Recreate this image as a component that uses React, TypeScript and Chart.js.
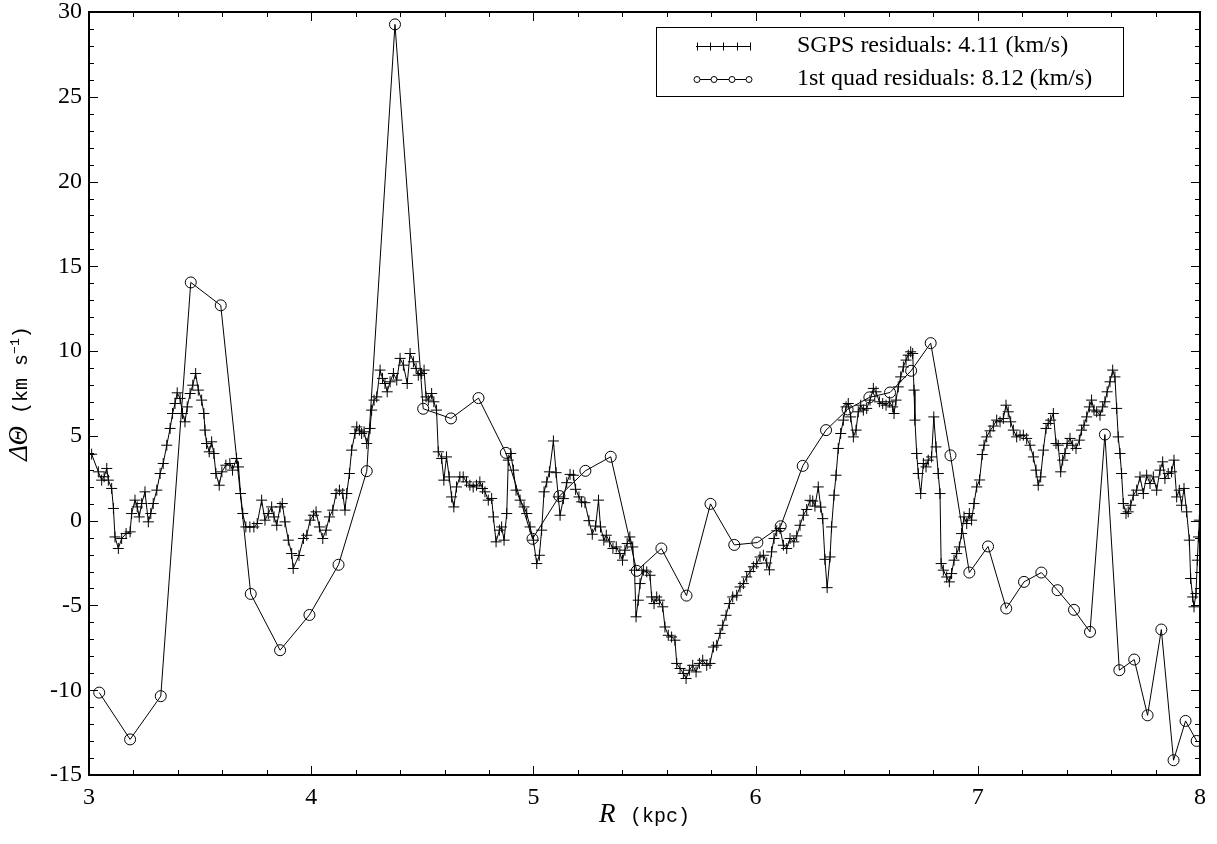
import React, { useEffect, useRef } from "react";
import { Chart, registerables } from "chart.js";

Chart.register(...registerables);

// ---------- data ----------
const sgpsLabel = "SGPS residuals: 4.11 (km/s)";
const quadLabel = "1st quad residuals: 8.12 (km/s)";

const sgpsR: number[] = [
  3.000, 3.012, 3.042, 3.057, 3.068, 3.080, 3.087, 3.102, 3.110, 3.117, 3.132, 3.147, 3.167, 3.185, 3.192, 3.207, 3.217, 3.226, 3.237, 3.252,
  3.267, 3.278, 3.289, 3.305, 3.320, 3.334, 3.350, 3.365, 3.376, 3.387, 3.397, 3.410, 3.421, 3.432, 3.442, 3.455, 3.467, 3.480, 3.492, 3.507,
  3.517, 3.522, 3.529, 3.541, 3.552, 3.562, 3.571, 3.586, 3.598, 3.616, 3.634, 3.646, 3.664, 3.673, 3.682, 3.692, 3.706, 3.724, 3.742, 3.757,
  3.777, 3.792, 3.807, 3.822, 3.833, 3.845, 3.860, 3.870, 3.882, 3.897, 3.912, 3.919, 3.945, 3.965, 3.980, 3.995, 4.010, 4.022, 4.037, 4.052,
  4.067, 4.082, 4.097, 4.112, 4.127, 4.142, 4.152, 4.160, 4.172, 4.182, 4.197, 4.205, 4.217, 4.227, 4.238, 4.250, 4.265, 4.272, 4.283, 4.295,
  4.310, 4.321, 4.332, 4.342, 4.355, 4.370, 4.385, 4.400, 4.415, 4.432, 4.445, 4.460, 4.472, 4.482, 4.497, 4.508, 4.517, 4.527, 4.542, 4.552,
  4.564, 4.572, 4.587, 4.597, 4.609, 4.621, 4.632, 4.642, 4.654, 4.669, 4.684, 4.699, 4.714, 4.729, 4.744, 4.759, 4.771, 4.782, 4.797, 4.812,
  4.820, 4.832, 4.847, 4.857, 4.868, 4.880, 4.887, 4.898, 4.910, 4.922, 4.940, 4.958, 4.970, 4.985, 5.000, 5.015, 5.027, 5.037, 5.048, 5.060,
  5.072, 5.090, 5.102, 5.112, 5.120, 5.135, 5.150, 5.165, 5.180, 5.190, 5.205, 5.217, 5.232, 5.250, 5.265, 5.280, 5.293, 5.302, 5.317, 5.328,
  5.343, 5.358, 5.373, 5.389, 5.401, 5.412, 5.422, 5.434, 5.447, 5.455, 5.462, 5.472, 5.480, 5.495, 5.510, 5.525, 5.532, 5.543, 5.555, 5.567,
  5.582, 5.592, 5.607, 5.622, 5.637, 5.645, 5.660, 5.675, 5.687, 5.702, 5.717, 5.732, 5.747, 5.762, 5.780, 5.795, 5.810, 5.825, 5.840, 5.852,
  5.867, 5.882, 5.897, 5.915, 5.930, 5.945, 5.960, 5.975, 5.990, 6.005, 6.020, 6.035, 6.050, 6.062, 6.072, 6.083, 6.095, 6.110, 6.125, 6.140,
  6.155, 6.172, 6.185, 6.200, 6.215, 6.230, 6.245, 6.257, 6.267, 6.282, 6.293, 6.302, 6.312, 6.322, 6.335, 6.342, 6.353, 6.362, 6.372, 6.383,
  6.395, 6.407, 6.417, 6.428, 6.440, 6.452, 6.462, 6.473, 6.485, 6.500, 6.515, 6.530, 6.542, 6.557, 6.572, 6.587, 6.602, 6.617, 6.623, 6.632,
  6.642, 6.653, 6.665, 6.677, 6.687, 6.698, 6.707, 6.713, 6.717, 6.725, 6.732, 6.743, 6.755, 6.767, 6.777, 6.792, 6.802, 6.812, 6.822, 6.830,
  6.835, 6.845, 6.860, 6.872, 6.882, 6.893, 6.905, 6.917, 6.927, 6.938, 6.950, 6.962, 6.972, 6.983, 6.995, 7.008, 7.020, 7.028, 7.040, 7.055,
  7.070, 7.085, 7.100, 7.115, 7.127, 7.137, 7.148, 7.160, 7.175, 7.190, 7.205, 7.220, 7.235, 7.250, 7.262, 7.272, 7.283, 7.295, 7.307, 7.317,
  7.328, 7.340, 7.352, 7.362, 7.373, 7.382, 7.392, 7.402, 7.415, 7.427, 7.442, 7.457, 7.467, 7.478, 7.490, 7.502, 7.512, 7.523, 7.535, 7.550,
  7.562, 7.572, 7.582, 7.595, 7.607, 7.617, 7.625, 7.632, 7.640, 7.647, 7.655, 7.667, 7.677, 7.688, 7.700, 7.715, 7.730, 7.745, 7.760, 7.775,
  7.790, 7.805, 7.820, 7.832, 7.842, 7.857, 7.872, 7.883, 7.895, 7.907, 7.917, 7.928, 7.940, 7.952, 7.958, 7.967, 7.973, 7.982, 7.988, 7.993,
  7.997,
];

const sgpsResid: number[] = [
  3.90, 3.92, 2.88, 2.39, 2.59, 3.08, 2.39, 1.90, 0.72, -0.96, -1.64, -1.05, -0.76, -0.66, 0.42, 1.21, 0.81, 0.22, 1.01, 1.70,
  -0.07, 0.42, 1.01, 1.80, 2.78, 3.37, 4.45, 5.44, 6.32, 6.91, 7.54, 7.21, 6.32, 5.83, 6.71, 7.50, 7.99, 8.68, 7.70, 7.11,
  6.32, 5.34, 4.55, 4.06, 4.65, 3.96, 2.78, 2.09, 2.88, 3.27, 3.37, 2.98, 3.67, 3.17, 1.60, 0.42, -0.37, -0.37, -0.37, -0.17,
  1.21, 0.03, 0.42, 0.81, 0.22, -0.27, 0.81, 1.01, -0.07, -1.15, -1.94, -2.82, -2.05, -1.05, -0.86, 0.03, 0.32, 0.52, -0.37, -1.05,
  -0.56, 0.22, 0.62, 1.60, 1.80, 1.60, 0.62, 1.60, 2.78, 4.16, 5.14, 5.53, 5.34, 5.14, 5.24, 4.55, 5.44, 6.52, 7.11, 7.30,
  8.88, 8.39, 8.09, 7.60, 8.19, 8.68, 8.29, 9.57, 9.17, 8.09, 9.86, 9.37, 8.98, 8.58, 8.68, 8.88, 7.30, 7.11, 7.50, 7.01,
  6.52, 4.06, 3.67, 2.39, 3.76, 2.58, 1.40, 0.81, 1.99, 2.58, 2.58, 2.29, 2.09, 1.99, 2.09, 2.29, 1.90, 1.70, 1.21, 1.31,
  0.22, -1.25, -0.56, -0.37, -1.15, 0.42, 3.57, 3.96, 2.98, 1.80, 1.21, 0.81, 0.42, -0.37, -1.15, -2.53, -2.04, -0.56, 1.70, 2.28,
  2.88, 4.70, 2.83, 1.40, 0.32, 1.30, 2.24, 2.73, 2.68, 1.85, 1.40, 1.11, 1.06, 0.00, -0.80, -0.32, 1.21, -0.37, -1.15, -0.86,
  -1.25, -1.64, -1.55, -1.94, -2.33, -1.74, -1.35, -0.96, -1.55, -2.92, -5.67, -4.69, -3.71, -2.92, -3.02, -3.22, -4.50, -4.89, -4.50, -4.69,
  -5.08, -6.27, -6.76, -6.86, -7.05, -8.42, -8.72, -9.01, -9.31, -8.82, -8.53, -8.92, -8.42, -8.23, -8.53, -8.42, -7.45, -7.35, -6.65, -6.17,
  -5.58, -4.89, -4.50, -4.40, -3.91, -3.71, -3.32, -3.00, -2.72, -2.53, -2.14, -2.04, -2.50, -2.90, -1.84, -1.05, -0.60, -0.46, -1.45, -1.64,
  -1.05, -1.25, -0.90, -0.27, 0.32, 0.66, 1.20, 1.16, 0.86, 1.99, 0.80, 0.12, -2.28, -3.95, -2.14, -0.37, 1.50, 2.68, 4.26, 5.14,
  5.93, 6.71, 6.91, 6.12, 4.94, 5.34, 6.42, 6.81, 6.52, 6.62, 7.11, 7.80, 7.60, 7.01, 6.91, 6.81, 7.01, 6.71, 6.32, 7.11,
  7.89, 8.48, 9.07, 9.47, 9.76, 9.96, 9.86, 7.70, 5.93, 3.96, 2.78, 1.60, 3.37, 3.17, 3.57, 3.76, 6.12, 4.35, 2.78, 1.60,
  -2.53, -2.92, -3.32, -3.61, -3.12, -2.33, -1.94, -1.55, -0.76, 0.22, -0.17, 0.42, 0.03, 1.01, 1.99, 2.40, 3.90, 4.45, 4.94, 5.30,
  5.58, 5.93, 5.83, 6.03, 6.81, 6.42, 5.83, 5.34, 4.94, 5.04, 5.04, 4.85, 4.45, 3.76, 2.98, 2.09, 2.58, 4.16, 5.44, 5.73,
  5.93, 6.32, 4.55, 4.45, 2.88, 3.57, 3.96, 4.55, 4.85, 4.45, 4.26, 4.75, 5.34, 5.63, 6.12, 6.71, 7.11, 6.52, 6.42, 6.22,
  6.71, 7.01, 7.60, 8.19, 8.88, 8.48, 6.62, 4.94, 3.96, 2.78, 1.01, 0.42, 0.52, 0.91, 1.50, 1.80, 2.58, 1.60, 2.68, 2.19,
  2.58, 1.80, 2.98, 3.47, 2.49, 2.78, 2.88, 3.57, 1.40, 1.80, 0.91, 1.90, 0.52, -1.15, -3.41, -4.50, -5.08, -4.30, -2.33, -0.96,
  0.03,
];

const quadR: number[] = [
  3.046, 3.185, 3.323, 3.458, 3.593, 3.728, 3.860, 3.992, 4.123, 4.250,
  4.377, 4.504, 4.629, 4.753, 4.876, 4.996, 5.117, 5.234, 5.348, 5.465,
  5.576, 5.689, 5.797, 5.904, 6.008, 6.113, 6.212, 6.317, 6.414, 6.512,
  6.605, 6.700, 6.788, 6.877, 6.962, 7.046, 7.128, 7.208, 7.286, 7.359,
  7.433, 7.505, 7.572, 7.637, 7.704, 7.764, 7.826, 7.881, 7.935, 7.985,
];

const quadResid: number[] = [
  -10.14, -12.90, -10.35, 14.05, 12.70, -4.32, -7.64, -5.56, -2.60, 2.92,
  29.27, 6.60, 6.03, 7.23, 4.00, -1.07, 1.45, 2.94, 3.77, -2.96,
  -1.64, -4.42, 0.99, -1.43, -1.29, -0.33, 3.23, 5.34, 6.56, 7.27,
  7.56, 8.84, 10.47, 3.85, -3.06, -1.52, -5.18, -3.61, -3.06, -4.10,
  -5.26, -6.56, 5.08, -8.82, -8.19, -11.48, -6.42, -14.13, -11.81, -12.99,
];

const xTickValues: number[] = [3, 4, 5, 6, 7, 8];
const yTickValues: number[] = [-15, -10, -5, 0, 5, 10, 15, 20, 25, 30];
const xMinorStep = 0.2;
const yMinorStep = 1;

// ---------- styling ----------
const SERIF = "'Liberation Serif', 'Times New Roman', serif";
const MONO = "'Liberation Mono', 'DejaVu Sans Mono', monospace";

const frameTicksPlugin = {
  id: "frameTicks",
  afterDraw(chart: any) {
    const ctx = chart.ctx;
    const { left, right, top, bottom } = chart.chartArea;
    const xs = chart.scales.x;
    const ys = chart.scales.y;
    ctx.save();
    ctx.strokeStyle = "#000";
    ctx.lineWidth = 1;
    const line = (x1: number, y1: number, x2: number, y2: number) => {
      ctx.beginPath();
      ctx.moveTo(x1, y1);
      ctx.lineTo(x2, y2);
      ctx.stroke();
    };
    const xMin = xTickValues[0];
    const xMax = xTickValues[xTickValues.length - 1];
    const nx = Math.round((xMax - xMin) / xMinorStep);
    for (let i = 0; i <= nx; i++) {
      const v = xMin + i * xMinorStep;
      const px = Math.round(xs.getPixelForValue(v)) + 0.5;
      const major = i % 5 === 0;
      const len = major ? 9 : 5;
      line(px, bottom, px, bottom - len);
      line(px, top, px, top + len);
    }
    const yMin = yTickValues[0];
    const yMax = yTickValues[yTickValues.length - 1];
    const ny = Math.round((yMax - yMin) / yMinorStep);
    for (let i = 0; i <= ny; i++) {
      const v = yMin + i * yMinorStep;
      const py = Math.round(ys.getPixelForValue(v)) + 0.5;
      const major = i % 5 === 0;
      const len = major ? 9 : 5;
      line(left, py, left + len, py);
      line(right, py, right - len, py);
    }
    ctx.lineWidth = 2;
    ctx.strokeRect(left, top, right - left, bottom - top);
    ctx.restore();
  },
};

const titlesPlugin = {
  id: "axisTitles",
  afterDraw(chart: any) {
    const ctx = chart.ctx;
    const { left, right, top, bottom } = chart.chartArea;
    ctx.save();
    ctx.fillStyle = "#000";
    ctx.textBaseline = "alphabetic";
    ctx.textAlign = "left";

    // x title: R (kpc)
    const segX = [
      { t: "R", f: `italic 27px ${SERIF}`, dy: 0 },
      { t: "  ", f: `12px ${MONO}`, dy: 0 },
      { t: "(kpc)", f: `20px ${MONO}`, dy: 0 },
    ];
    let w = 0;
    for (const s of segX) { ctx.font = s.f; w += ctx.measureText(s.t).width; }
    let x = (left + right) / 2 - w / 2;
    const yBase = bottom + 47;
    for (const s of segX) { ctx.font = s.f; ctx.fillText(s.t, x, yBase + s.dy); x += ctx.measureText(s.t).width; }

    // y title: ΔΘ (km s^-1)
    const segY = [
      { t: "ΔΘ", f: `italic 27px ${SERIF}`, dy: 0 },
      { t: " (km s", f: `20px ${MONO}`, dy: 0 },
      { t: "−1", f: `13px ${MONO}`, dy: -8 },
      { t: ")", f: `20px ${MONO}`, dy: 0 },
    ];
    w = 0;
    for (const s of segY) { ctx.font = s.f; w += ctx.measureText(s.t).width; }
    ctx.translate(left - 62, (top + bottom) / 2);
    ctx.rotate(-Math.PI / 2);
    x = -w / 2;
    for (const s of segY) { ctx.font = s.f; ctx.fillText(s.t, x, s.dy); x += ctx.measureText(s.t).width; }
    ctx.restore();
  },
};

const legendPlugin = {
  id: "boxLegend",
  afterDraw(chart: any) {
    const ctx = chart.ctx;
    ctx.save();
    ctx.strokeStyle = "#000";
    ctx.fillStyle = "#000";
    ctx.lineWidth = 1;
    ctx.strokeRect(656.5, 27.5, 467, 69);
    const rows = [
      { label: chart.data.datasets[0].label, y: 46, marker: "cross", xs: [697, 710, 723, 737, 750] },
      { label: chart.data.datasets[1].label, y: 79, marker: "circle", xs: [697, 714, 732, 749] },
    ];
    for (const r of rows) {
      ctx.beginPath();
      ctx.moveTo(696, r.y + 0.5);
      ctx.lineTo(751, r.y + 0.5);
      ctx.stroke();
      for (const mx of r.xs) {
        ctx.beginPath();
        if (r.marker === "cross") {
          ctx.moveTo(mx + 0.5, r.y - 3.5);
          ctx.lineTo(mx + 0.5, r.y + 4.5);
          ctx.stroke();
        } else {
          ctx.fillStyle = "#fff";
          ctx.arc(mx, r.y + 0.5, 3, 0, Math.PI * 2);
          ctx.fill();
          ctx.stroke();
          ctx.fillStyle = "#000";
        }
      }
      ctx.font = `24px ${SERIF}`;
      ctx.textBaseline = "middle";
      ctx.textAlign = "left";
      ctx.fillText(r.label, 797, r.y);
    }
    ctx.restore();
  },
};

export default function App() {
  const canvasRef = useRef<HTMLCanvasElement | null>(null);

  useEffect(() => {
    document.body.style.margin = "0";
    const canvas = canvasRef.current;
    if (!canvas) return;
    const tickFont = { family: SERIF, size: 24 };
    const chart = new Chart(canvas, {
      type: "line",
      data: {
        datasets: [
          {
            label: sgpsLabel,
            data: sgpsR.map((r, i) => ({ x: r, y: sgpsResid[i] })),
            borderColor: "#000",
            borderWidth: 1,
            pointStyle: "cross",
            pointRadius: 5.5,
            pointBorderColor: "#000",
            pointBorderWidth: 1,
            pointBackgroundColor: "#000",
            tension: 0,
            clip: 0,
          } as any,
          {
            label: quadLabel,
            data: quadR.map((r, i) => ({ x: r, y: quadResid[i] })),
            borderColor: "#000",
            borderWidth: 1,
            pointStyle: "circle",
            pointRadius: 5.5,
            pointBorderColor: "#000",
            pointBorderWidth: 1,
            pointBackgroundColor: "rgba(0,0,0,0)",
            tension: 0,
            clip: 0,
          } as any,
        ],
      },
      options: {
        responsive: false,
        animation: false,
        devicePixelRatio: 1,
        layout: { padding: { left: 0, top: 12, right: 17, bottom: 0 } },
        plugins: { legend: { display: false }, tooltip: { enabled: false } },
        scales: {
          x: {
            type: "linear",
            min: xTickValues[0],
            max: xTickValues[xTickValues.length - 1],
            afterBuildTicks: (s: any) => { s.ticks = xTickValues.map((v) => ({ value: v })); },
            afterFit: (s: any) => { s.height = 69; s.paddingLeft = 0; s.paddingRight = 0; },
            grid: { display: false, drawTicks: false },
            border: { display: false },
            ticks: { font: tickFont, color: "#000", padding: 8, maxRotation: 0, autoSkip: false },
          },
          y: {
            type: "linear",
            min: yTickValues[0],
            max: yTickValues[yTickValues.length - 1],
            afterBuildTicks: (s: any) => { s.ticks = yTickValues.map((v) => ({ value: v })); },
            afterFit: (s: any) => { s.width = 89; s.paddingTop = 0; s.paddingBottom = 0; },
            grid: { display: false, drawTicks: false },
            border: { display: false },
            ticks: { font: tickFont, color: "#000", padding: 7, autoSkip: false },
          },
        },
      } as any,
      plugins: [frameTicksPlugin, titlesPlugin, legendPlugin],
    });
    return () => chart.destroy();
  }, []);

  return (
    <div style={{ position: "absolute", left: 0, top: 0, width: 1217, height: 844, background: "#fff" }}>
      <canvas ref={canvasRef} width={1217} height={844} style={{ display: "block" }} />
    </div>
  );
}
